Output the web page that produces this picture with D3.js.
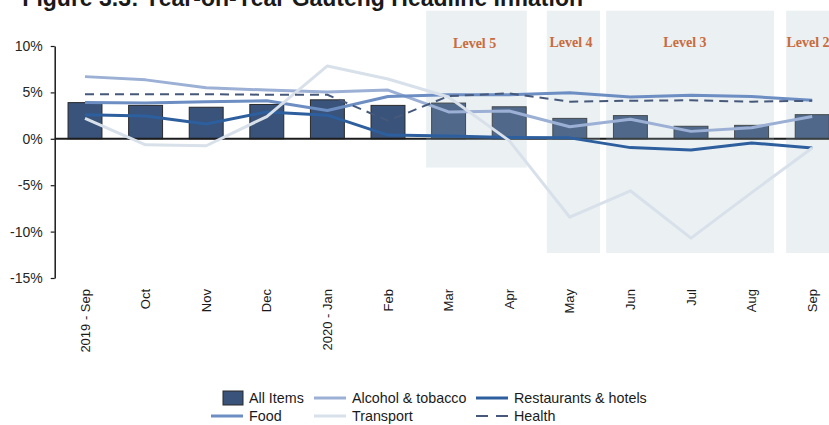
<!DOCTYPE html>
<html>
<head>
<meta charset="utf-8">
<script src="https://cdn.jsdelivr.net/npm/d3@7"></script>
<style>
  html, body { margin: 0; padding: 0; background: #fff; }
  svg { display: block; font-family: Arial, "Liberation Sans", Helvetica, sans-serif; }
</style>
</head>
<body>
<svg id="chart" width="829" height="425"></svg>
<script>
// months on the x axis
const months = ['2019 - Sep', 'Oct', 'Nov', 'Dec', '2020 - Jan', 'Feb', 'Mar', 'Apr', 'May', 'Jun', 'Jul', 'Aug', 'Sep'];

// year-on-year inflation, %
const allItems    = [3.9, 3.6, 3.4, 3.7, 4.2, 3.6, 3.85, 3.45, 2.2, 2.5, 1.35, 1.45, 2.6];
const alcohol     = [6.7, 6.35, 5.5, 5.25, 5.05, 5.25, 2.9, 3.0, 1.3, 2.1, 0.8, 1.2, 2.4];
const restaurants = [2.6, 2.45, 1.6, 2.9, 2.55, 0.4, 0.3, 0.15, 0.1, -0.95, -1.2, -0.45, -1.0];
const food        = [3.9, 3.85, 4.0, 4.1, 3.05, 4.55, 4.75, 4.75, 4.95, 4.5, 4.7, 4.55, 4.15];
const transport   = [2.2, -0.65, -0.75, 2.4, 7.85, 6.45, 4.5, -0.2, -8.45, -5.6, -10.7, -5.8, -1.0];
const health      = [4.8, 4.8, 4.8, 4.75, 4.75, 1.95, 4.6, 4.9, 4.0, 4.1, 4.15, 4.0, 4.1];

const yTicks = [-15, -10, -5, 0, 5, 10];

// lockdown levels, in month units (0 = start of first month), bottom in %
const levelNames  = ['Level 5', 'Level 4', 'Level 3', 'Level 2'];
const levelStart  = [6.13, 8.12, 9.1, 12.07];
const levelEnd    = [7.79, 9.0, 11.87, 13.4];
const levelBottom = [-3.1, -12.3, -12.3, -12.3];
const levelLabelAt = [6.93, 8.52, 10.4, 12.43];

const svg = d3.select('#chart');

const left = 54.7, right = 842.5;
const x = d3.scaleBand().domain(months).range([left, right]).padding(0);
const xi = d3.scaleLinear().domain([0, months.length]).range([left, right]);
const y = d3.scaleLinear().domain([-15, 10]).range([278, 46]);
const cx = m => x(m) + x.bandwidth() / 2;
const barW = x.bandwidth() * 0.56;

// title (cut by the top of the frame, as in the source)
svg.append('text')
    .attr('x', 583)
    .attr('y', 6)
    .attr('text-anchor', 'end')
    .style('font-size', '23px')
    .style('font-weight', 'bold')
    .style('fill', '#1a1a1a')
    .text('Figure 3.3: Year-on-Year Gauteng Headline Inflation');

// bars
svg.selectAll('rect.bar')
    .data(allItems)
    .enter()
    .append('rect')
    .attr('class', 'bar')
    .attr('x', (d, i) => cx(months[i]) - barW / 2)
    .attr('y', d => y(Math.max(d, 0)))
    .attr('width', barW)
    .attr('height', d => Math.abs(y(d) - y(0)))
    .attr('fill', '#39537a')
    .attr('stroke', '#2a2a2a')
    .attr('stroke-width', 1);

// y axis
const yAxis = svg.append('g')
    .attr('transform', `translate(${left},0)`)
    .call(d3.axisLeft(y).tickValues(yTicks).tickSize(4).tickSizeOuter(0).tickFormat(d => d + '%'));
yAxis.select('.domain').attr('stroke', '#1a1a1a').attr('stroke-width', 1.5);
yAxis.selectAll('.tick line').attr('stroke', '#1a1a1a').attr('stroke-width', 1.2);
yAxis.selectAll('.tick text')
    .attr('x', -12)
    .style('font-size', '14px')
    .style('font-family', 'Arial, "Liberation Sans", sans-serif')
    .style('fill', '#262626');

// zero line
svg.append('line')
    .attr('x1', left).attr('x2', 829)
    .attr('y1', y(0)).attr('y2', y(0))
    .attr('stroke', '#1c1c1c')
    .attr('stroke-width', 2);

// lockdown shading overlays bars and axis
svg.selectAll('rect.level')
    .data(levelNames)
    .enter()
    .append('rect')
    .attr('class', 'level')
    .attr('x', (d, i) => xi(levelStart[i]))
    .attr('y', y(13.8))
    .attr('width', (d, i) => xi(levelEnd[i]) - xi(levelStart[i]))
    .attr('height', (d, i) => y(levelBottom[i]) - y(13.8))
    .attr('fill', 'rgb(165,185,200)')
    .attr('fill-opacity', 0.22);

svg.selectAll('text.level')
    .data(levelNames)
    .enter()
    .append('text')
    .attr('class', 'level')
    .attr('x', (d, i) => xi(levelLabelAt[i]))
    .attr('y', (d, i) => i === 0 ? 48 : 46.5)
    .attr('text-anchor', 'middle')
    .style('font-family', '"Liberation Serif", "DejaVu Serif", serif')
    .style('font-weight', 'bold')
    .style('font-size', '14px')
    .style('fill', '#c96b3d')
    .text(d => d);

// lines
const series = [
    { name: 'Alcohol & tobacco', values: alcohol, color: '#9bb0d4', dash: null },
    { name: 'Food', values: food, color: '#6d8ec3', dash: null },
    { name: 'Restaurants & hotels', values: restaurants, color: '#2d5f9f', dash: null },
    { name: 'Transport', values: transport, color: '#d8e0ea', dash: null },
    { name: 'Health', values: health, color: '#46597a', dash: '9,6' }
];

const line = d3.line()
    .x((d, i) => cx(months[i]))
    .y(d => y(d));

svg.selectAll('path.series')
    .data(series)
    .enter()
    .append('path')
    .attr('class', 'series')
    .attr('d', s => line(s.values))
    .attr('fill', 'none')
    .attr('stroke', s => s.color)
    .attr('stroke-width', s => s.dash ? 2 : 3)
    .attr('stroke-dasharray', s => s.dash)
    .attr('stroke-linejoin', 'round');

// x labels, rotated
svg.selectAll('text.month')
    .data(months)
    .enter()
    .append('text')
    .attr('class', 'month')
    .attr('transform', d => `translate(${cx(d) + 4.5},289) rotate(-90)`)
    .attr('text-anchor', 'end')
    .style('font-size', '13px')
    .style('fill', '#1a1a1a')
    .text(d => d);

// legend
const legend = svg.append('g').style('font-size', '14.3px').style('fill', '#1a1a1a');
const legendItems = [
    { label: 'All Items', kind: 'bar', color: '#39537a', lx: 223, row: 0 },
    { label: 'Alcohol & tobacco', kind: 'line', color: '#9bb0d4', lx: 314, row: 0 },
    { label: 'Restaurants & hotels', kind: 'line', color: '#2d5f9f', lx: 476, row: 0 },
    { label: 'Food', kind: 'line', color: '#6d8ec3', lx: 211, row: 1 },
    { label: 'Transport', kind: 'line', color: '#d8e0ea', lx: 314, row: 1 },
    { label: 'Health', kind: 'dash', color: '#46597a', lx: 476, row: 1 }
];
legendItems.forEach(it => {
    const cy = it.row === 0 ? 398 : 416;
    if (it.kind === 'bar') {
        legend.append('rect')
            .attr('x', it.lx).attr('y', cy - 7)
            .attr('width', 20).attr('height', 14)
            .attr('fill', it.color).attr('stroke', '#2a2a2a');
    } else {
        legend.append('line')
            .attr('x1', it.lx).attr('x2', it.lx + 32)
            .attr('y1', cy).attr('y2', cy)
            .attr('stroke', it.color)
            .attr('stroke-width', it.kind === 'dash' ? 2 : 3)
            .attr('stroke-dasharray', it.kind === 'dash' ? '12,8' : null);
    }
    const tx = it.kind === 'bar' ? it.lx + 26 : it.lx + 38;
    legend.append('text')
        .attr('x', tx).attr('y', cy + 5)
        .text(it.label);
});
</script>
</body>
</html>
